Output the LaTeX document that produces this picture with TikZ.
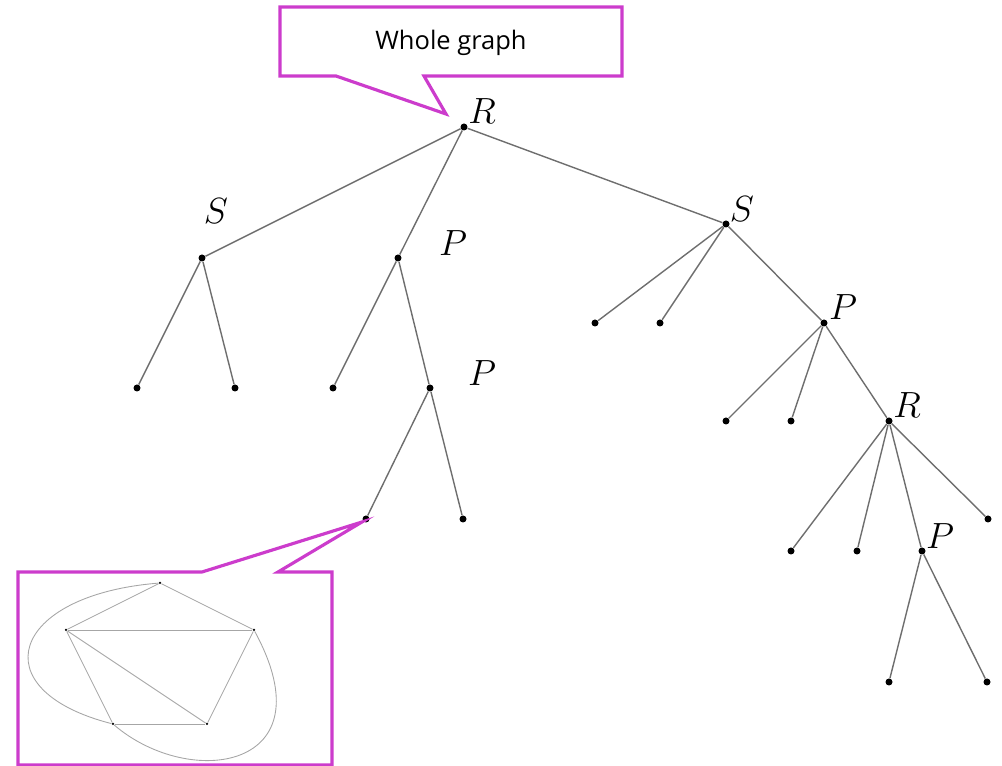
\documentclass[tikz,border=0pt]{standalone}
\usepackage{fontspec}
\setsansfont{Open Sans}
\usepackage{xcolor}
\definecolor{callpurple}{RGB}{204,60,204}
\definecolor{edgegray}{RGB}{110,110,110}

\begin{document}
\begin{tikzpicture}[x=0.02cm, y=-0.02cm,
  dot/.style={circle, fill=black, inner sep=0pt, minimum size=0.14cm},
  tinydot/.style={circle, fill=black, inner sep=0pt, minimum size=0.05cm},
  lbl/.style={inner sep=0pt, font=\fontsize{21}{24}\selectfont},
  edge/.style={draw=edgegray, line width=0.8pt},
  inedge/.style={draw=gray!70, line width=0.5pt},
  callout/.style={draw=callpurple, line width=1.8pt, line join=miter}
]
  \useasboundingbox (0,0) rectangle (1002,766);

  % tree nodes
  \node[dot] (r)   at (464,127) {};
  \node[dot] (s1)  at (202,258) {};
  \node[dot] (s1a) at (137,388) {};
  \node[dot] (s1b) at (235,388) {};
  \node[dot] (p1)  at (398,258) {};
  \node[dot] (p1a) at (333,388) {};
  \node[dot] (p2)  at (430,388) {};
  \node[dot] (p2a) at (366,519) {};
  \node[dot] (p2b) at (463,519) {};
  \node[dot] (s2)  at (726,224) {};
  \node[dot] (s2a) at (595,323) {};
  \node[dot] (s2b) at (660,323) {};
  \node[dot] (p3)  at (824,323) {};
  \node[dot] (p3a) at (726,421) {};
  \node[dot] (p3b) at (791,421) {};
  \node[dot] (r2)  at (889,421) {};
  \node[dot] (r2a) at (791,551) {};
  \node[dot] (r2b) at (857,551) {};
  \node[dot] (p4)  at (922,551) {};
  \node[dot] (r2c) at (988,519) {};
  \node[dot] (p4a) at (889,682) {};
  \node[dot] (p4b) at (987,682) {};

  % labels
  \node[lbl] (lr)  at (482,111) {$R$};
  \node[lbl] (ls1) at (216,211) {$S$};
  \node[lbl] (lp1) at (453,243) {$P$};
  \node[lbl] (lp2) at (482,373) {$P$};
  \node[lbl] (ls2) at (742,209) {$S$};
  \node[lbl] (lp3) at (843,307) {$P$};
  \node[lbl] (lr2) at (907,405) {$R$};
  \node[lbl] (lp4) at (940,536) {$P$};

  % tree edges
  \foreach \a/\b in {r/s1, r/p1, r/s2, s1/s1a, s1/s1b, p1/p1a, p1/p2, p2/p2a, p2/p2b,
                     s2/s2a, s2/s2b, s2/p3, p3/p3a, p3/p3b, p3/r2,
                     r2/r2a, r2/r2b, r2/p4, r2/r2c, p4/p4a, p4/p4b}
    \draw[edge] (\a) -- (\b);

  % top callout
  \node[font=\sffamily\fontsize{14.5}{16}\selectfont] (whole) at (451,43) {Whole graph};
  \draw[callout] (280,7) -- (622,7) -- (622,76) -- (424,76) -- (446,114)
                 -- (336,76) -- (280,76) -- cycle;

  % bottom inset
  \draw[callout] (18,572) -- (202,572) -- (362,522) -- (278,572) -- (332,572)
                 -- (332,765) -- (18,765) -- cycle;
  \node[tinydot] (ga) at (160,583) {};
  \node[tinydot] (gb) at (66,630) {};
  \node[tinydot] (gc) at (254,630) {};
  \node[tinydot] (gd) at (113,724) {};
  \node[tinydot] (ge) at (207,724) {};
  \foreach \a/\b in {ga/gb, ga/gc, gb/gc, gb/gd, gb/ge, gc/ge, gd/ge}
    \draw[inedge] (\a) -- (\b);
  \draw[inedge] (ga) .. controls (10,595) and (-20,690) .. (gd)
                .. controls (190,790) and (330,770) .. (gc);
\end{tikzpicture}
\end{document}
